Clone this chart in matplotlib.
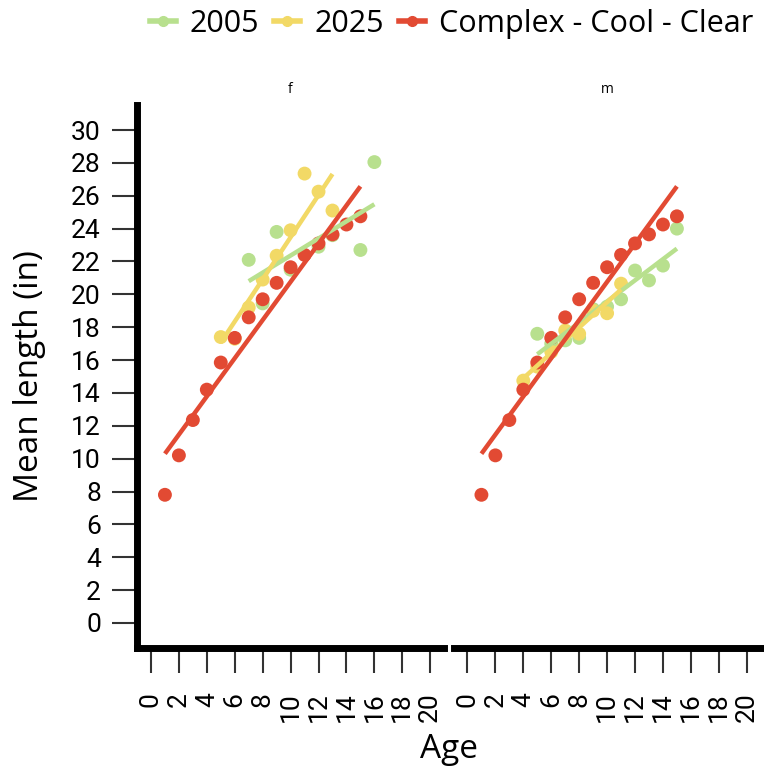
import numpy as np
import matplotlib
matplotlib.use("Agg")
import matplotlib.pyplot as plt
from matplotlib.lines import Line2D

plt.rcParams['font.family'] = ['Roboto', 'DejaVu Sans']
LABEL_FONT = ['Open Sans', 'DejaVu Sans']

# ---- data ----
panels = ["f", "m"]
series_names = ["2005", "2025", "Complex - Cool - Clear"]
colors = ["#b8e08e", "#f2d966", "#e24a33"]

ref_ages = [1, 2, 3, 4, 5, 6, 7, 8, 9, 10, 11, 12, 13, 14, 15]
ref_len = [7.8, 10.2, 12.35, 14.2, 15.85, 17.35, 18.6, 19.7, 20.7, 21.65, 22.4, 23.1, 23.65, 24.25, 24.75]

f_2005_ages = [7, 8, 9, 10, 12, 13, 15, 16]
f_2005_len = [22.1, 19.45, 23.8, 21.5, 22.9, 23.6, 22.7, 28.05]
f_2025_ages = [5, 6, 7, 8, 9, 10, 11, 12, 13]
f_2025_len = [17.4, 17.3, 19.2, 20.9, 22.35, 23.9, 27.35, 26.25, 25.1]

m_2005_ages = [5, 6, 7, 8, 9, 10, 11, 12, 13, 14, 15]
m_2005_len = [17.6, 17.0, 17.2, 17.35, 19.1, 19.25, 19.7, 21.45, 20.85, 21.75, 24.0]
m_2025_ages = [4, 5, 6, 7, 8, 9, 10, 11]
m_2025_len = [14.75, 15.6, 16.5, 17.8, 17.6, 19.0, 18.85, 20.65]

y_ticks = list(range(0, 31, 2))
x_ticks = list(range(0, 21, 2))

data = {
    "f": [(f_2005_ages, f_2005_len), (f_2025_ages, f_2025_len), (ref_ages, ref_len)],
    "m": [(m_2005_ages, m_2005_len), (m_2025_ages, m_2025_len), (ref_ages, ref_len)],
}

# ---- figure ----
W, H = 764, 770
fig = plt.figure(figsize=(W / 100, H / 100), dpi=100)
pw, ph = 307.2 / W, 542.2 / H
pb = 122.4 / H
ax_f = fig.add_axes([137 / W, pb, pw, ph])
ax_m = fig.add_axes([453.5 / W, pb, pw, ph])

for ax, name in zip([ax_f, ax_m], panels):
    for i, (ages, vals) in enumerate(data[name]):
        a = np.array(ages, dtype=float)
        v = np.array(vals, dtype=float)
        ax.scatter(a, v, s=100, color=colors[i], edgecolors='none', zorder=2 + i)
        k, b = np.polyfit(a, v, 1)
        xs = np.array([a.min(), a.max()])
        ax.plot(xs, k * xs + b, color=colors[i], lw=3.2, zorder=6 + i,
                solid_capstyle='butt')
    ax.set_xlim(-1, 21)
    ax.set_ylim(-1.5, 31.5)
    ax.set_xticks(x_ticks)
    ax.set_xticklabels([str(t) for t in x_ticks], rotation=90)
    ax.set_yticks(y_ticks)
    ax.set_yticklabels([str(t) for t in y_ticks])
    for s in ['top', 'right']:
        ax.spines[s].set_visible(False)
    for s in ['left', 'bottom']:
        ax.spines[s].set_linewidth(5)
        ax.spines[s].set_color('black')
        ax.spines[s].set_capstyle('projecting')
    ax.tick_params(axis='both', length=18, width=1.5, color='#333333',
                   labelsize=19, labelcolor='black')
    ax.tick_params(axis='y', pad=8)
    ax.tick_params(axis='x', pad=14)
    ax.text(0.5, 1 + 15.5 / 542.2, name, transform=ax.transAxes,
            ha='center', va='center', fontsize=10, family=LABEL_FONT)
    ax.patch.set_visible(False)

ax_m.spines['left'].set_visible(False)
ax_m.tick_params(axis='y', left=False, labelleft=False)

fig.text(448.5 / W, 1 - 749 / H, "Age", ha='center', va='center', fontsize=24,
         family=LABEL_FONT)
fig.text(30 / W, 1 - 376 / H, "Mean length (in)", ha='center', va='center',
         rotation=90, fontsize=24, family=LABEL_FONT)

handles = [Line2D([0], [0], color=c, lw=4, marker='o', markersize=7) for c in colors]
fig.legend(handles, series_names, loc='center right',
           bbox_to_anchor=(753 / W, 1 - 24 / H), ncol=3, frameon=False,
           prop={'family': LABEL_FONT, 'size': 22}, handlelength=0.85,
           handletextpad=0.45, columnspacing=0.5, borderaxespad=0, borderpad=0)

fig.savefig("out.png", dpi=100)
